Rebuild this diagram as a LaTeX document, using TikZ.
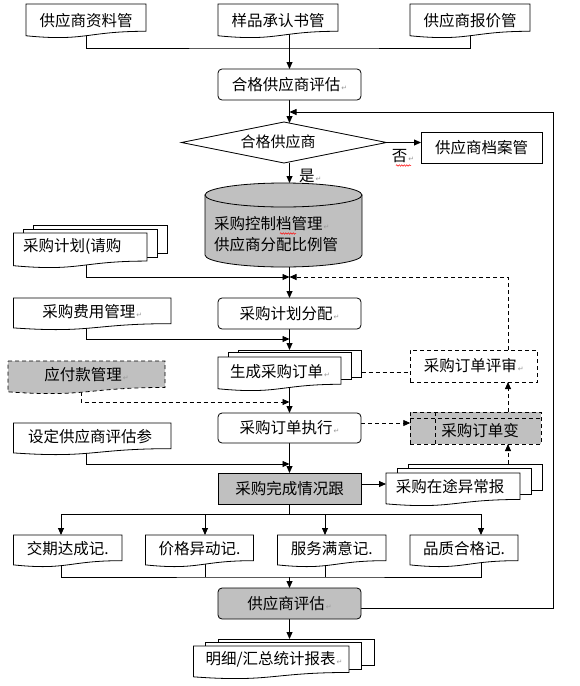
\documentclass[tikz,border=0pt]{standalone}
\usepackage{fontspec}
\newfontfamily\cjk{Noto Sans CJK SC}
\newfontfamily\symf{DejaVu Sans}
\usetikzlibrary{shapes.geometric,calc,arrows.meta,backgrounds,decorations.pathmorphing}
\definecolor{silver}{RGB}{192,192,192}
\newcommand\pmk{\hspace{1pt}{\symf\fontsize{7}{7}\selectfont\color{black!40}↵}}
% document outline (Word flowchart "document")
\newcommand\docline[2]{\path[#2] (#1.north west) -- (#1.north east) -- ($(#1.south east)!0.198!(#1.north east)$) .. controls ($(#1.south)!0.198!(#1.north)$) and ($(#1.south)!-0.108!(#1.north)$) .. ($(#1.south west)!0.066!(#1.north west)$) -- cycle;}
% back page of a multi-document
\newcommand\backpage[3]{\path[page] ($(#1.north west)+(#2,#3)$) rectangle ($(#1.south east)!0.198!(#1.north east)+(#2,#3)$);}
\tikzset{
  ln/.style={line width=0.8pt},
  arr/.style={ln,-{Triangle[length=7pt,width=6pt]}},
  darr/.style={arr,dash pattern=on 4pt off 3pt},
  dsh/.style={dash pattern=on 4pt off 3pt},
  txt/.style={font=\cjk\fontsize{15.5}{21}\selectfont,inner sep=0pt},
  frame/.style={inner sep=0pt,outer sep=0pt},
  rbox/.style={frame,txt,draw,ln,fill=white,rounded corners=4pt,minimum width=143pt,minimum height=31pt},
  sbox/.style={frame,txt,draw,ln,fill=white,minimum height=31pt},
  docst/.style={draw,ln,fill=white},
  page/.style={draw,ln,fill=white},
  wavy/.style={red,line width=0.5pt,decorate,decoration={snake,amplitude=0.7pt,segment length=2.5pt}}
}
\begin{document}
\begin{tikzpicture}[x=1pt,y=-1pt]
\useasboundingbox (0,0) rectangle (580,686);
% ---------- top documents
\node[frame,minimum width=120pt,minimum height=34pt] (d1) at (86,21) {};
\docline{d1}{docst}
\node[txt] (d1t) at (86,21) {供应商资料管};
\node[frame,minimum width=120pt,minimum height=34pt] (d2) at (278,21) {};
\docline{d2}{docst}
\node[txt] (d2t) at (278,21) {样品承认书管};
\node[frame,minimum width=120pt,minimum height=34pt] (d3) at (470,21) {};
\docline{d3}{docst}
\node[txt] (d3t) at (470,21) {供应商报价管};
% ---------- evaluation
\node[rbox] (eval) at (289.5,84.5) {合格供应商评估\pmk};
\node[frame,minimum width=205pt,minimum height=41pt] (dia) at (284,142.5) {};
\path[draw,ln,fill=white] (dia.north) -- (dia.east) -- (dia.south) -- (dia.west) -- cycle;
\node[txt,font=\cjk\fontsize{15}{18}\selectfont] (diat) at (278,142) {合格供应商};
\node[sbox,minimum width=121pt] (arch) at (481.5,147.5) {供应商档案管};
\node[txt] (no) at (403,156) {否\pmk};
\draw[wavy] (396,165.5) -- (411,165.5);
\node[txt,anchor=west] (yes) at (299,176) {是\pmk};
% ---------- cylinder
\node[frame,minimum width=157pt,minimum height=84pt] (cyl) at (283.5,225) {};
\path[draw,ln,fill=silver] (205,195) -- (205,255) .. controls (205,261.6) and (240.1,267) .. (283.5,267) .. controls (326.9,267) and (362,261.6) .. (362,255) -- (362,195) -- cycle;
\path[draw,ln,fill=silver] (283.5,195) ellipse [x radius=78.5,y radius=12];
\node[txt,anchor=west,align=left] (cylt) at (214,234.5) {采购控制档管理\pmk\\供应商分配比例管};
\draw[wavy] (280,233.5) -- (296,233.5);
% ---------- left inputs
\node[frame,minimum width=133.5pt,minimum height=35pt] (pr) at (80.25,250.5) {};
\backpage{pr}{20}{-8}
\backpage{pr}{10}{-4}
\docline{pr}{docst}
\node[txt,anchor=west] (prt) at (23,247) {采购计划(请购};
\node[frame,minimum width=157.5pt,minimum height=32pt] (fee) at (92.25,314) {};
\docline{fee}{docst}
\node[txt] (feet) at (92.25,312) {采购费用管理\pmk};
\node[frame,minimum width=157pt,minimum height=33pt] (pay) at (86.5,377.5) {};
\docline{pay}{draw,ln,fill=silver,dsh}
\node[txt] (payt) at (86.5,375) {应付款管理\pmk};
\node[frame,minimum width=157.5pt,minimum height=32pt] (param) at (92.25,439) {};
\docline{param}{docst}
\node[txt] (paramt) at (90,437) {设定供应商评估参};
% ---------- main column
\node[rbox] (plan) at (289.5,313.5) {采购计划分配\pmk};
\node[frame,minimum width=123pt,minimum height=34pt] (gen) at (279.5,374) {};
\backpage{gen}{20.5}{-7}
\backpage{gen}{10}{-4.5}
\docline{gen}{docst}
\node[txt] (gent) at (280,371.5) {生成采购订单\pmk};
\node[rbox,minimum height=30pt] (exec) at (289.5,428) {采购订单执行\pmk};
\node[sbox,fill=silver,minimum width=143pt] (track) at (289.5,488.5) {采购完成情况跟};
% ---------- right column
\node[sbox,dsh,minimum width=127.5pt,minimum height=32pt] (review) at (473.75,366) {采购订单评审\pmk};
\node[frame,draw,ln,dsh,fill=silver,minimum width=131pt,minimum height=32pt] (change) at (475.75,428) {};
\draw[ln,dsh] ([yshift=-6.5pt]change.north west) -- ([yshift=-6.5pt]change.north east);
\draw[ln,dsh] ([xshift=25pt]change.north west) -- ([xshift=25pt]change.south west);
\node[txt] (changet) at (480,431) {采购订单变};
\node[frame,minimum width=134pt,minimum height=33pt] (og) at (453,489.5) {};
\backpage{og}{22}{-9}
\backpage{og}{11}{-5}
\docline{og}{docst}
\node[txt] (ogt) at (450,486.5) {采购在途异常报};
% ---------- records
\node[frame,minimum width=108.5pt,minimum height=32pt] (r1) at (67.75,551) {};
\docline{r1}{docst}
\node[txt] (r1t) at (67.75,548.5) {交期达成记.};
\node[frame,minimum width=108pt,minimum height=32pt] (r2) at (199.5,551) {};
\docline{r2}{docst}
\node[txt] (r2t) at (199.5,548.5) {价格异动记.};
\node[frame,minimum width=108.5pt,minimum height=32pt] (r3) at (331.75,551) {};
\docline{r3}{docst}
\node[txt] (r3t) at (331.75,548.5) {服务满意记.};
\node[frame,minimum width=108pt,minimum height=32pt] (r4) at (464,551) {};
\docline{r4}{docst}
\node[txt] (r4t) at (464,548.5) {品质合格记.};
% ---------- final
\node[rbox,fill=silver] (final) at (289.5,603.5) {供应商评估\pmk};
\node[frame,minimum width=155.5pt,minimum height=33pt] (rep) at (271.25,662.5) {};
\backpage{rep}{25}{-7}
\backpage{rep}{12}{-3.5}
\docline{rep}{docst}
\node[txt] (rept) at (274,659.5) {明细/汇总统计报表\pmk};
% ---------- helper coordinates
\coordinate (j1) at (289.5,48);
\coordinate (m1) at (289.5,277);
\coordinate (m2) at (289.5,339);
\coordinate (gtop) at (289.5,350);
\coordinate (m3) at (289.5,402);
\coordinate (m4) at (289.5,464);
\coordinate (ogtop) at (508,464);
\coordinate (m5) at (289.5,514);
\coordinate (m6) at (289.5,577);
\coordinate (rtop) at (289.5,639);
\coordinate (fb) at (553.8,112);
% ---------- connectors
\begin{pgfonlayer}{background}
\draw[ln] (d1.center) |- (j1) -| (d3.center);
\draw[arr] (d2.center -| eval.north) -- (eval.north);
\draw[arr] (eval.south) -- ([yshift=-1pt]eval.south |- dia.north);
\draw[arr] (dia.east) -- (dia.east -| arch.west);
\draw[arr] (eval.south |- dia.south) -- (eval.south |- cyl.north);
\draw[arr] ([xshift=5.75pt]pr.center) |- (m1);
\draw[darr] ([xshift=34.25pt]review.north) |- (m1);
\draw[arr] (cyl.south -| plan.north) -- (plan.north);
\draw[arr] ([xshift=-6.25pt]fee.center) |- (m2);
\draw[arr] (plan.south) -- (gtop);
\draw[darr] ([xshift=-5.5pt]pay.center) |- (m3);
\draw[arr] (gen.center -| exec.north) -- (exec.north);
\draw[darr] ([shift={(20.5pt,2pt)}]gen.east) -- ([shift={(20.5pt,2pt)}]gen.east -| review.west);
\draw[darr] ([yshift=5pt]exec.east) -- ([yshift=5pt]exec.east -| change.west);
\draw[darr] ([xshift=32.25pt]change.north) -- ([xshift=32.25pt]change.north |- review.south);
\draw[darr] (ogtop) -- (ogtop |- change.south);
\draw[arr] ([xshift=-6.25pt]param.center) |- (m4);
\draw[arr] (exec.south) -- (track.north);
\draw[arr] ([yshift=4.5pt]track.east) -- ([yshift=4.5pt]track.east -| og.west);
\draw[ln] (track.south) -- (m5);
\draw[ln] ([xshift=-6.75pt]r1.north |- m5) -- ([xshift=17pt]r4.north |- m5);
\draw[arr] ([xshift=-6.75pt]r1.north |- m5) -- ([xshift=-6.75pt]r1.north);
\draw[arr] ([xshift=5.5pt]r2.north |- m5) -- ([xshift=5.5pt]r2.north);
\draw[arr] ([xshift=-6.75pt]r3.north |- m5) -- ([xshift=-6.75pt]r3.north);
\draw[arr] ([xshift=17pt]r4.north |- m5) -- ([xshift=17pt]r4.north);
\draw[ln] ([xshift=-6.75pt]r1.center) |- (m6) -| ([xshift=17pt]r4.center);
\draw[ln] ([xshift=5.5pt]r2.center) -- ([xshift=5.5pt]r2.center |- m6);
\draw[ln] ([xshift=-6.75pt]r3.center) -- ([xshift=-6.75pt]r3.center |- m6);
\draw[arr] (m6) -- (final.north);
\draw[arr] ([yshift=-4.5pt]final.east) -| (fb) -- (fb -| eval.south);
\draw[arr] (final.south) -- (rtop);
\end{pgfonlayer}
\end{tikzpicture}
\end{document}
